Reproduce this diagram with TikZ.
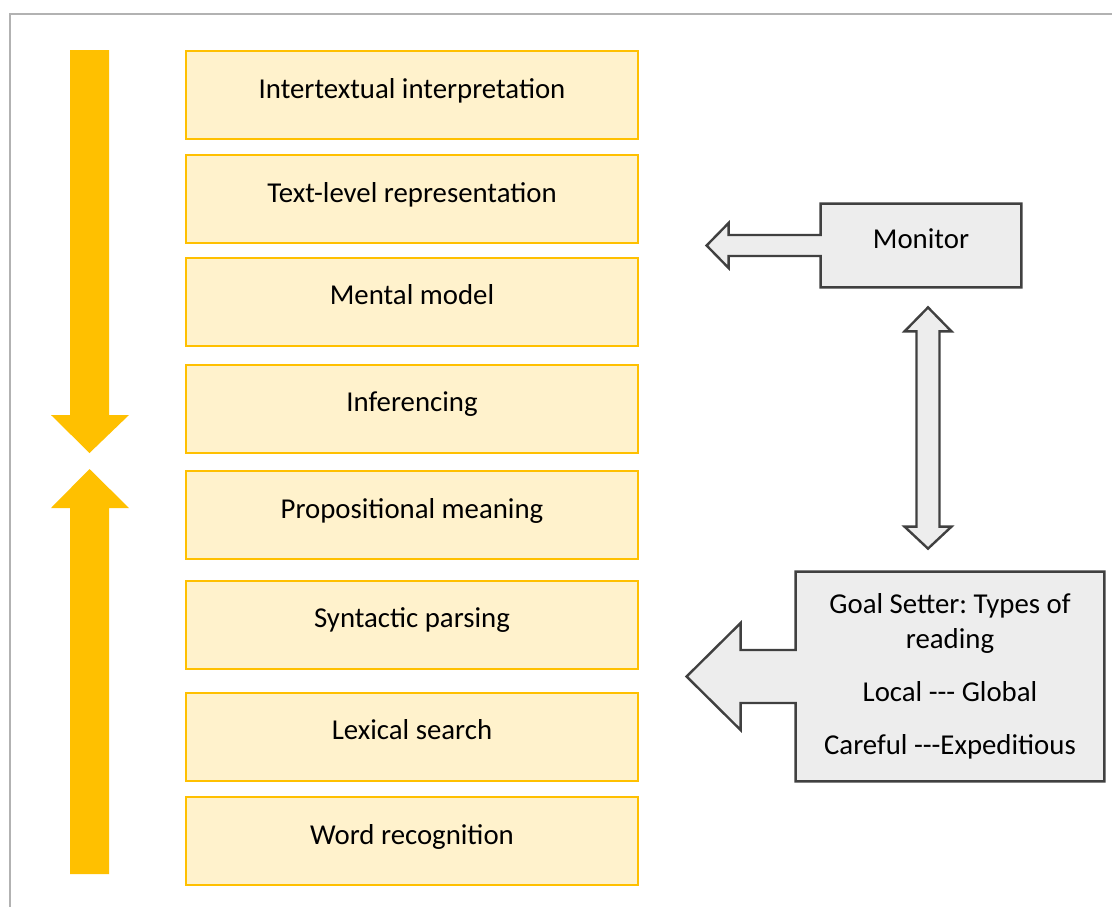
\documentclass[tikz,border=0pt]{standalone}
\usepackage{fontspec}
\setmainfont{Carlito}[Ligatures=TeXOff]
\frenchspacing
\usetikzlibrary{calc,backgrounds}
\definecolor{lvfill}{HTML}{FFF2CC}
\definecolor{lvline}{HTML}{FFC000}
\definecolor{ctfill}{HTML}{EDEDED}
\definecolor{ctline}{HTML}{404040}
\tikzset{
  lvl/.style={draw=lvline,fill=lvfill,line width=1pt,minimum width=226pt,minimum height=44pt,
    text height=10pt,text depth=7pt,inner sep=0pt},
  ctl/.style={align=center,inner sep=0pt},
  blk/.style={fill=ctfill,draw=ctline,line width=1.2pt,line join=miter},
}

\begin{document}
\begin{tikzpicture}[x=0.5pt,y=-0.5pt,font=\fontsize{14.4}{17.5}\selectfont]
\useasboundingbox (0,0) rectangle (1112,906);
\draw[gray!60,line width=1pt] (10,14) rectangle (1130,930);

% processing levels
\node[lvl] (int) at (412,95) {Intertextual interpretation};
\node[lvl] (txt) at (412,199) {Text-level representation};
\node[lvl] (mm) at (412,301.5) {Mental model};
\node[lvl] (inf) at (412,408.5) {Inferencing};
\node[lvl] (prop) at (412,515) {Propositional meaning};
\node[lvl] (syn) at (412,624.5) {Syntactic parsing};
\node[lvl] (lex) at (412,736.5) {Lexical search};
\node[lvl] (word) at (412,841) {Word recognition};

% top-down / bottom-up
\fill[lvline] (70,50) -- (109,50) -- (109,415) -- (129,415) -- (89.5,453) -- (51,415) -- (70,415) -- cycle;
\fill[lvline] (89.5,469) -- (129,508) -- (109,508) -- (109,874) -- (70,874) -- (70,508) -- (51,508) -- cycle;

% control boxes
\node[ctl,minimum width=100pt,minimum height=41.5pt,text height=10pt,text depth=7pt] (mon) at (921,245.5) {Monitor};
\node[ctl,minimum width=154pt,minimum height=104.5pt] (goal) at (950,676.5)
  {Goal Setter: Types of\\reading\\[9pt]Local --- Global\\[9pt]Careful ---Expeditious};
\coordinate (dtop) at ($(mon.south)+(7,20)$);
\coordinate (dbot) at ($(goal.north)+(-22,-23)$);

\begin{scope}[on background layer]
\draw[blk] (mon.north west) -- (mon.north east) -- (mon.south east) -- (mon.south west)
  -- ($(mon.west)+(0,10.5)$) -- ++(-92,0) -- ++(0,12) -- ++(-22,-22.5) -- ++(22,-22.5) -- ++(0,12) -- ++(92,0) -- cycle;
\draw[blk] (goal.north west) -- (goal.north east) -- (goal.south east) -- (goal.south west)
  -- ($(goal.west)+(0,26.5)$) -- ++(-55,0) -- ++(0,27) -- ++(-54,-53.5) -- ++(54,-53.5) -- ++(0,27) -- ++(55,0) -- cycle;
\draw[blk] (dtop) -- ++(23.5,24) -- ++(-12,0) -- ($(dbot)+(11.5,-22)$) -- ++(12,0) -- (dbot)
  -- ++(-23.5,-22) -- ++(12,0) -- ($(dtop)+(-11.5,24)$) -- ++(-12,0) -- cycle;
\end{scope}
\end{tikzpicture}
\end{document}
